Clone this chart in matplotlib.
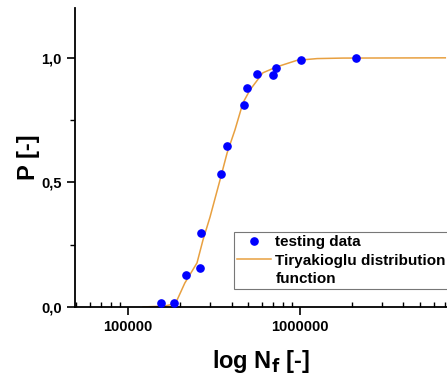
import matplotlib
matplotlib.use("Agg")
import matplotlib.pyplot as plt
from matplotlib.lines import Line2D
from matplotlib.ticker import FixedLocator, FuncFormatter, LogLocator, NullFormatter, MultipleLocator

plt.rcParams['font.family'] = ['Liberation Sans', 'DejaVu Sans']
plt.rcParams['font.weight'] = 'bold'

# testing data
cycles = [155600, 185000, 217000, 262000, 265000, 347000, 376000,
          472000, 492000, 562000, 697000, 725000, 1014000, 2120000]
prob = [0.016, 0.016, 0.128, 0.157, 0.297, 0.534, 0.647,
        0.811, 0.880, 0.936, 0.930, 0.960, 0.992, 1.0]

# Tiryakioglu distribution function
fit_cycles = [122400, 164000, 183000, 193000, 214000, 252000, 273000, 300000,
              343000, 377000, 419000, 466000, 512000, 609000, 735000, 961000,
              1260000, 1780000, 7000000]
fit_prob = [0.0, 0.004, 0.012, 0.028, 0.096, 0.177, 0.269, 0.361,
            0.510, 0.618, 0.711, 0.819, 0.871, 0.940, 0.964, 0.990,
            0.997, 0.999, 1.0]

yticks = [0.0, 0.5, 1.0]
legend_labels = ['testing data', 'Tiryakioglu distribution', 'function']

fig = plt.figure(figsize=(4.47, 3.75), dpi=100)
ax = fig.add_axes([75/447, 1-307/375, 372/447, 299/375])

line_color = '#E8A040'
marker_color = '#0000FF'
ax.plot(fit_cycles, fit_prob, color=line_color, lw=1.1, zorder=2)
ax.plot(cycles, prob, 'o', color=marker_color, ms=5.2, zorder=3)

ax.set_xscale('log')
ax.set_xlim(10**4.692, 10**6.855)
ax.set_ylim(0, 1.2)

ax.spines['top'].set_visible(False)
ax.spines['right'].set_visible(False)
ax.spines['left'].set_linewidth(1.3)
ax.spines['bottom'].set_linewidth(1.3)

ax.set_yticks(yticks)
ax.yaxis.set_major_formatter(FuncFormatter(lambda v, p: f"{v:.1f}".replace('.', ',')))
ax.yaxis.set_minor_locator(MultipleLocator(0.25))
ax.xaxis.set_major_locator(FixedLocator([1e5, 1e6]))
ax.xaxis.set_major_formatter(FuncFormatter(lambda v, p: f"{int(round(v))}"))
ax.xaxis.set_minor_locator(LogLocator(base=10, subs=range(2, 10)))
ax.xaxis.set_minor_formatter(NullFormatter())
ax.tick_params(axis='both', which='major', length=6, width=1.2, labelsize=10.5, direction='out')
ax.tick_params(axis='y', which='minor', length=3.5, width=1, direction='out')
ax.tick_params(axis='x', which='minor', length=3.5, width=1, direction='in')
for lab in ax.get_xticklabels() + ax.get_yticklabels():
    lab.set_fontweight('bold')

ax.set_xlabel('log N$_\\mathbf{f}$ [-]', fontsize=17, fontweight='bold', labelpad=10)
ax.set_ylabel('P [-]', fontsize=17, fontweight='bold', labelpad=1)

handles = [
    Line2D([], [], marker='o', ls='none', color=marker_color, ms=5.2),
    Line2D([], [], color=line_color, lw=1.1),
    Line2D([], [], ls='none', marker=None),
]
leg = ax.legend(handles, legend_labels, loc='upper left',
                bbox_to_anchor=(234/447, 1-232/375), bbox_transform=fig.transFigure,
                frameon=True, fancybox=False, fontsize=11, handlelength=2.2,
                handletextpad=0.3, borderpad=0.2, labelspacing=0.3, borderaxespad=0)
leg.get_frame().set_edgecolor('#555555')
leg.get_frame().set_linewidth(0.8)
for t in leg.get_texts():
    t.set_fontweight('bold')

fig.savefig('out.png', dpi=100)
